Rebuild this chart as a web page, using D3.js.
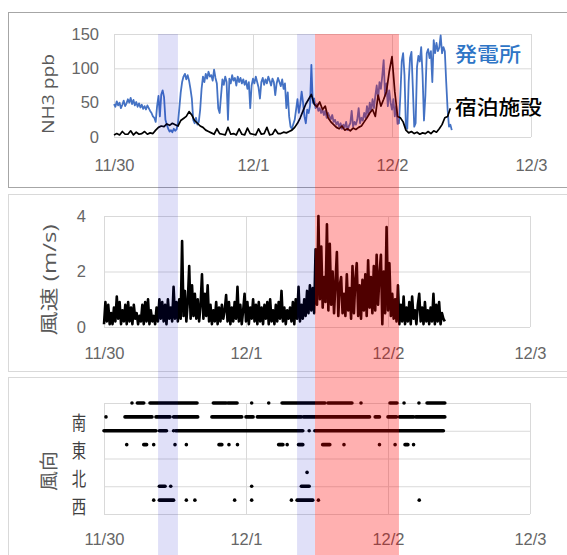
<!DOCTYPE html>
<html>
<head>
<meta charset="utf-8">
<script src="https://cdn.jsdelivr.net/npm/d3@7"></script>
<style>
    body { margin: 0; background: #fff; }
    svg { display: block; font-family: "Open Sans", "Noto Sans CJK JP", sans-serif; }
    .tick text { fill: #666; font-size: 16.5px; }
</style>
</head>
<body>
<svg id="chart" width="567" height="555"></svg>
<script>
// 横軸（日付）
const DAY_TICKS = [0, 1, 2, 3];
const DAY_LABELS = ['11/30', '12/1', '12/2', '12/3'];

// NH3 発電所（0.01日ごと）
const PLANT_STEP = 0.01;
const nh3Plant = [
    48, 44, 52, 46, 50, 42, 47, 53, 45, 49,
    55, 50, 57, 48, 54, 46, 51, 44, 49, 43,
    47, 41, 45, 40, 46, 42, 38, 35, 30, 28,
    22, 45, 60, 30, 62, 68, 58, 25, 18, 12,
    8, 10, 7, 12, 9, 11, 20, 42, 65, 80,
    88, 92, 84, 90, 82, 70, 56, 25, 20, 28,
    18, 22, 40, 70, 88, 80, 92, 85, 95, 88,
    90, 82, 98, 86, 78, 42, 35, 60, 84, 76,
    88, 80, 25, 85, 78, 90, 82, 86, 75, 88,
    80, 86, 78, 84, 76, 82, 70, 80, 42, 75,
    85, 78, 88, 80, 72, 56, 80, 86, 76, 84,
    78, 88, 82, 75, 85, 80, 61, 78, 86, 80,
    74, 84, 70, 78, 42, 65, 30, 15, 12, 19,
    25, 40, 55, 35, 48, 66, 50, 30, 20, 40,
    35, 45, 105, 50, 56, 42, 48, 38, 42, 35,
    40, 32, 38, 28, 35, 30, 26, 32, 22, 25,
    18, 22, 15, 20, 12, 18, 14, 22, 10, 16,
    20, 38, 15, 22, 18, 25, 42, 20, 28, 24,
    35, 28, 45, 32, 50, 38, 55, 42, 60, 75,
    55, 80, 70, 89, 112, 60, 78, 45, 68, 50,
    40, 55, 30, 45, 19, 20, 60, 110, 122, 90,
    15, 12, 80, 115, 124, 71, 15, 20, 102, 118,
    110, 131, 90, 24, 60, 122, 128, 115, 125, 80,
    141, 122, 137, 125, 130, 148, 122, 131, 125, 80,
    40, 15, 18, 10
];

// NH3 宿泊施設（0.02日ごと）
const HOTEL_STEP = 0.02;
const nh3Hotel = [
    3, 5, 3, 8, 4, 4, 9, 3, 7, 4,
    5, 8, 4, 6, 5, 10, 14, 16, 15, 19,
    17, 20, 18, 16, 24, 27, 30, 37, 32, 24,
    20, 16, 14, 10, 8, 6, 4, 12, 5, 4,
    3, 14, 4, 5, 3, 12, 4, 3, 13, 5,
    4, 3, 12, 4, 5, 14, 3, 4, 11, 5,
    5, 7, 6, 8, 10, 14, 20, 28, 38, 48,
    55, 62, 48, 44, 51, 40, 45, 28, 22, 18,
    14, 12, 16, 10, 12, 9, 13, 11, 14, 16,
    22, 28, 35, 40, 30, 61, 45, 55, 66, 95,
    117, 66, 30, 28, 22, 10, 6, 8, 5, 7,
    4, 6, 5, 8, 5, 9, 7, 12, 18, 28, 30, 42
];

// 風速 m/s（0.01日ごと）
const WIND_STEP = 0.01;
const windSpeed = [
    0.1, 0.9, 0.2, 0.8, 0.1, 0.5, 0.1, 0.7, 0.2, 1.1,
    0.3, 0.9, 0.1, 0.6, 0.2, 0.8, 0.1, 0.9, 0.2, 0.7,
    0.1, 0.8, 0.3, 0.5, 0.1, 0.4, 0.2, 0.8, 0.1, 0.9,
    0.2, 1.0, 0.1, 0.6, 0.2, 0.4, 0.1, 0.7, 0.2, 1.0,
    0.3, 0.9, 0.2, 0.8, 0.1, 1.0, 0.3, 0.7, 0.2, 1.45,
    0.3, 0.9, 0.2, 1.0, 0.3, 3.1, 0.4, 1.3, 0.2, 0.9,
    2.2, 0.3, 1.5, 0.4, 1.2, 0.3, 1.0, 0.2, 0.8, 1.9,
    0.3, 1.2, 0.4, 1.5, 0.2, 0.8, 0.1, 0.6, 0.2, 0.9,
    0.1, 0.7, 0.2, 0.8, 0.3, 0.6, 1.15, 0.2, 0.9, 0.1,
    0.7, 0.2, 0.9, 0.3, 1.45, 0.2, 0.8, 0.1, 0.6, 1.2,
    0.2, 0.9, 0.1, 0.7, 0.3, 1.0, 0.2, 0.8, 0.1, 0.9,
    0.2, 0.7, 0.1, 0.8, 0.3, 0.9, 0.1, 1.0, 0.2, 0.6,
    0.1, 0.8, 0.2, 0.9, 0.3, 1.3, 0.2, 0.7, 0.1, 0.6,
    0.3, 0.7, 0.2, 0.9, 0.1, 1.0, 0.3, 1.45, 0.2, 0.8,
    0.3, 1.0, 0.4, 1.3, 0.5, 1.5, 0.6, 1.4, 0.5, 2.8,
    0.8, 4.0, 1.0, 2.9, 0.7, 1.8, 0.9, 3.7, 0.6, 3.0,
    0.8, 2.0, 0.5, 1.6, 2.7, 0.4, 1.5, 1.8, 0.5, 1.2,
    0.4, 1.9, 0.6, 1.4, 0.3, 2.2, 0.5, 1.7, 2.3, 0.4,
    1.5, 0.3, 1.7, 0.6, 1.9, 0.4, 2.4, 0.7, 1.8, 0.5,
    2.2, 0.6, 2.6, 0.8, 1.9, 2.6, 0.1, 2.0, 0.5, 3.6,
    0.6, 2.3, 0.4, 1.2, 0.3, 1.0, 0.2, 1.5, 0.1, 0.8,
    0.2, 1.1, 0.1, 0.7, 0.2, 0.9, 0.1, 1.1, 0.3, 0.6,
    0.1, 0.8, 1.2, 0.2, 0.7, 0.1, 0.9, 0.2, 0.6, 0.1,
    0.7, 0.2, 1.2, 0.1, 0.8, 0.2, 0.9, 0.1, 0.5, 0.3,
    0.2
];

// 風向：[方位コード, 開始日, 終了日]
const DIR_LABELS = ['西', '北', '東', '南'];
const DIR_LABEL_POS = [0.6, 2.6, 4.6, 6.6];
const windDirRuns = [
    [8, 0.197, 0.197], [8, 0.235, 0.28], [8, 0.324, 0.655], [8, 0.77, 0.86], [8, 0.873, 0.937],
    [8, 1.04, 1.04], [8, 1.16, 1.16], [8, 1.254, 1.556], [8, 1.577, 1.746], [8, 1.81, 1.81],
    [8, 2.014, 2.063], [8, 2.113, 2.113], [8, 2.218, 2.218], [8, 2.275, 2.40],
    [7, 0.014, 0.014], [7, 0.148, 0.338], [7, 0.366, 0.465], [7, 0.49, 0.66], [7, 0.76, 0.97],
    [7, 1.0, 1.05], [7, 1.08, 1.39], [7, 1.405, 1.87], [7, 1.91, 1.94], [7, 2.0, 2.06],
    [7, 2.08, 2.18], [7, 2.195, 2.40],
    [6, 0, 0.366], [6, 0.39, 0.44], [6, 0.49, 0.49], [6, 0.505, 1.40], [6, 1.445, 1.445], [6, 1.485, 2.39],
    [5, 0.16, 0.16], [5, 0.28, 0.30], [5, 0.35, 0.35], [5, 0.50, 0.50], [5, 0.58, 0.58],
    [5, 0.81, 0.83], [5, 0.88, 0.88], [5, 0.94, 0.94], [5, 1.23, 1.26], [5, 1.29, 1.29],
    [5, 1.37, 1.40], [5, 1.54, 1.59], [5, 1.69, 1.69], [5, 1.94, 1.94], [5, 2.05, 2.05],
    [5, 2.12, 2.14], [5, 2.18, 2.18],
    [3, 1.43, 1.43],
    [2, 0.39, 0.43], [2, 0.47, 0.47], [2, 1.04, 1.04], [2, 1.39, 1.445],
    [1, 0.35, 0.35], [1, 0.39, 0.49], [1, 0.58, 0.58], [1, 0.64, 0.64], [1, 0.92, 0.92],
    [1, 1.04, 1.04], [1, 1.32, 1.32], [1, 1.36, 1.47], [1, 1.51, 1.51], [1, 2.22, 2.22]
];

// 注目期間（日）
const blueBands = [[0.317, 0.46], [1.317, 1.446]];
const redBands = [[1.446, 2.05]];

const svg = d3.select('#chart');

// パネル枠
function drawFrame(y, h, color) {
    svg.append('rect')
        .attr('x', 8.5).attr('y', y)
        .attr('width', 620).attr('height', h)
        .attr('fill', 'none')
        .attr('stroke', color);
}

// グリッドと目盛り
function drawAxes(x, y, yTicks, xPad, yPad, showYLabels) {
    const g = svg.append('g');
    const [x0, x1] = x.range();
    const [y0, y1] = y.range();

    g.selectAll('.hgrid')
        .data(yTicks)
        .enter()
        .append('line')
        .attr('x1', x0).attr('x2', x1)
        .attr('y1', d => y(d) + 0.5).attr('y2', d => y(d) + 0.5)
        .attr('stroke', '#d9d9d9');

    g.selectAll('.vgrid')
        .data(DAY_TICKS)
        .enter()
        .append('line')
        .attr('x1', d => x(d) + 0.5).attr('x2', d => x(d) + 0.5)
        .attr('y1', y1).attr('y2', y0)
        .attr('stroke', '#d9d9d9');

    const ax = g.append('g')
        .attr('transform', `translate(0,${y0})`)
        .call(d3.axisBottom(x).tickValues(DAY_TICKS)
            .tickFormat((d, i) => DAY_LABELS[i]).tickSize(0).tickPadding(xPad));
    ax.select('.domain').remove();

    if (showYLabels) {
        const ay = g.append('g')
            .attr('transform', `translate(${x0},0)`)
            .call(d3.axisLeft(y).tickValues(yTicks).tickFormat(d3.format('d'))
                .tickSize(0).tickPadding(yPad));
        ay.select('.domain').remove();
    }
}

function yTitle(text, cx, cy, size, len) {
    svg.append('text')
        .attr('transform', `translate(${cx},${cy}) rotate(-90)`)
        .attr('text-anchor', 'middle')
        .attr('textLength', len)
        .attr('lengthAdjust', 'spacingAndGlyphs')
        .style('font-size', size + 'px')
        .style('fill', '#595959')
        .text(text);
}

// ---- パネル1：NH3 ----
drawFrame(12.5, 175, '#a6a6a6');
const x1 = d3.scaleLinear().domain([0, 3]).range([114, 531]);
const y1 = d3.scaleLinear().domain([0, 150]).range([137, 34]);
drawAxes(x1, y1, [0, 50, 100, 150], 22, 15, true);

svg.append('path')
    .datum(nh3Plant)
    .attr('d', d3.line().x((d, i) => x1(i * PLANT_STEP)).y(d => y1(d)))
    .attr('fill', 'none')
    .attr('stroke', '#4472c4')
    .attr('stroke-width', 1.8)
    .attr('stroke-linejoin', 'round');

svg.append('path')
    .datum(nh3Hotel)
    .attr('d', d3.line().x((d, i) => x1(i * HOTEL_STEP)).y(d => y1(d)))
    .attr('fill', 'none')
    .attr('stroke', '#000')
    .attr('stroke-width', 1.7)
    .attr('stroke-linejoin', 'round');

yTitle('NH3 ppb', 54, 94, 16, 80);

svg.append('text')
    .attr('x', 455).attr('y', 62)
    .attr('textLength', 66).attr('lengthAdjust', 'spacingAndGlyphs')
    .style('font-family', '"Noto Sans CJK JP", sans-serif')
    .style('font-size', '20px')
    .style('font-weight', 500)
    .style('fill', '#2e75c6')
    .text('発電所');

svg.append('text')
    .attr('x', 455).attr('y', 114.5)
    .attr('textLength', 87).attr('lengthAdjust', 'spacingAndGlyphs')
    .style('font-family', '"Noto Sans CJK JP", sans-serif')
    .style('font-size', '20px')
    .style('font-weight', 500)
    .style('fill', '#000')
    .text('宿泊施設');

// ---- パネル2：風速 ----
drawFrame(194.5, 177, '#d9d9d9');
const x2 = d3.scaleLinear().domain([0, 3]).range([104, 530]);
const y2 = d3.scaleLinear().domain([0, 4]).range([327, 216]);
drawAxes(x2, y2, [0, 2, 4], 20, 18, true);

svg.append('path')
    .datum(windSpeed)
    .attr('d', d3.line().x((d, i) => x2(i * WIND_STEP)).y(d => y2(d)))
    .attr('fill', 'none')
    .attr('stroke', '#000')
    .attr('stroke-width', 2.6)
    .attr('stroke-linejoin', 'round');

yTitle('風速 (m/s)', 56, 280, 18, 111);

// ---- パネル3：風向 ----
drawFrame(377.5, 200, '#d9d9d9');
const x3 = d3.scaleLinear().domain([0, 3]).range([104, 530]);
const y3 = d3.scaleLinear().domain([0, 8]).range([514, 403]);
drawAxes(x3, y3, [0, 2, 4, 6, 8], 19, 0, false);

svg.append('g')
    .selectAll('line')
    .data(windDirRuns)
    .enter()
    .append('line')
    .attr('x1', d => x3(d[1])).attr('x2', d => x3(d[2]))
    .attr('y1', d => y3(d[0])).attr('y2', d => y3(d[0]))
    .attr('stroke', '#000')
    .attr('stroke-width', 3.6)
    .attr('stroke-linecap', 'round');

svg.append('g')
    .selectAll('g')
    .data(DIR_LABELS)
    .enter()
    .append('g')
    .attr('transform', (d, i) => `translate(79,${y3(DIR_LABEL_POS[i])}) scale(0.8,1.05)`)
    .append('text')
    .attr('text-anchor', 'middle')
    .attr('dominant-baseline', 'central')
    .style('font-family', '"Noto Sans CJK JP", sans-serif')
    .style('font-size', '18px')
    .style('fill', '#404040')
    .text(d => d);

yTitle('風向', 56, 471, 19, 40);

// ---- 注目期間の帯 ----
const bandTop = y1.range()[1];
svg.append('g')
    .selectAll('rect')
    .data(blueBands)
    .enter()
    .append('rect')
    .attr('x', d => x1(d[0])).attr('width', d => x1(d[1]) - x1(d[0]))
    .attr('y', bandTop).attr('height', 555 - bandTop)
    .attr('fill', '#0000c8')
    .attr('opacity', 0.12);

svg.append('g')
    .selectAll('rect')
    .data(redBands)
    .enter()
    .append('rect')
    .attr('x', d => x1(d[0])).attr('width', d => x1(d[1]) - x1(d[0]))
    .attr('y', bandTop).attr('height', 555 - bandTop)
    .attr('fill', '#ff0000')
    .attr('opacity', 0.31);
</script>
</body>
</html>
